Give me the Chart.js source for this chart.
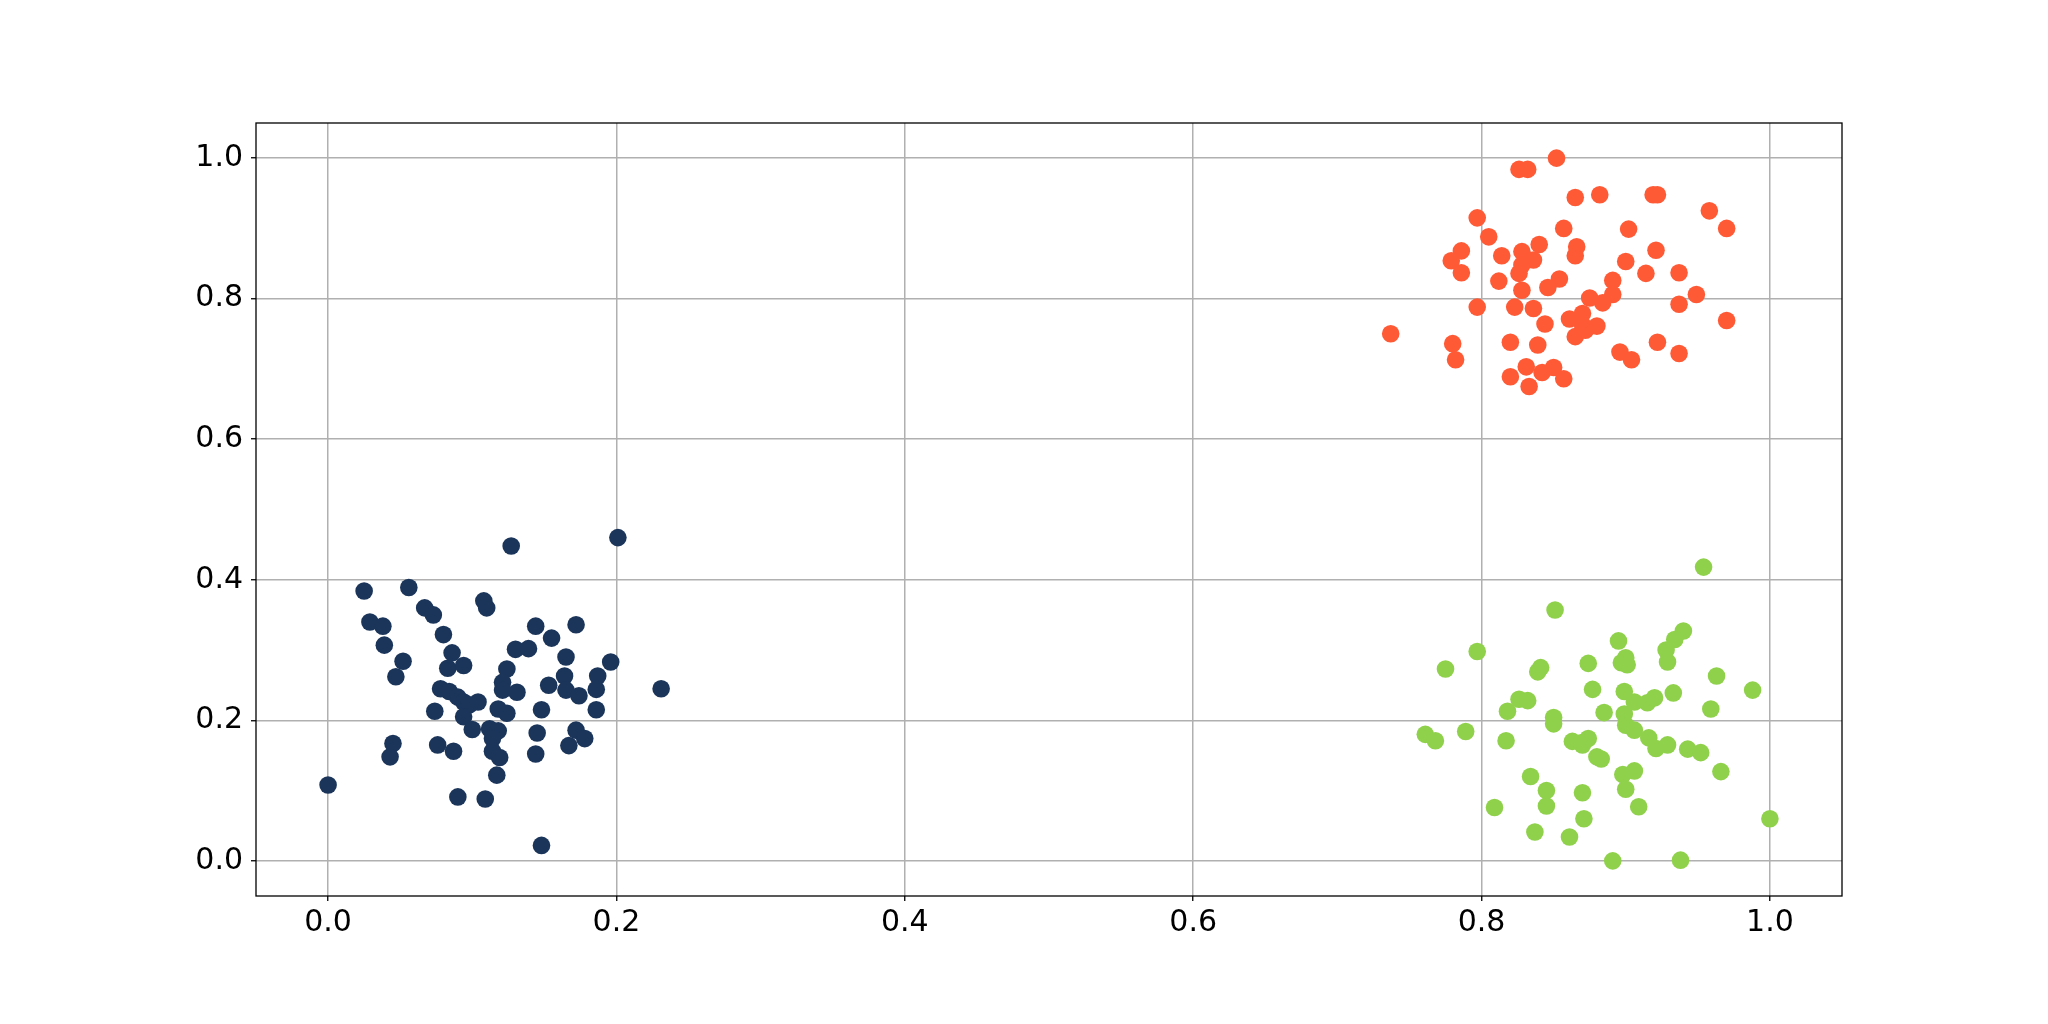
<!DOCTYPE html>
<html>
<head>
<meta charset="utf-8">
<script src="https://cdn.jsdelivr.net/npm/chart.js@4.4.1/dist/chart.umd.min.js"></script>
<style>
  html, body { margin: 0; padding: 0; background: #fff; }
  canvas { display: block; }
</style>
</head>
<body>
<canvas id="chart" width="2048" height="1024"></canvas>
<script>
// cluster values
const navyX = [0.127, 0.201, 0.025, 0.056, 0.108, 0.110, 0.067, 0.073, 0.029, 0.038,
  0.039, 0.080, 0.144, 0.172, 0.155, 0.130, 0.139, 0.086, 0.052, 0.047,
  0.083, 0.094, 0.165, 0.196, 0.124, 0.121, 0.121, 0.131, 0.153, 0.164,
  0.165, 0.174, 0.187, 0.186, 0.231, 0.078, 0.084, 0.090, 0.094, 0.104,
  0.098, 0.074, 0.094, 0.118, 0.124, 0.148, 0.186, 0.100, 0.112, 0.118,
  0.114, 0.145, 0.172, 0.178, 0.167, 0.045, 0.043, 0.076, 0.087, 0.114,
  0.119, 0.144, 0.117, 0.000, 0.090, 0.109, 0.148];
const navyY = [0.448, 0.460, 0.384, 0.389, 0.370, 0.360, 0.360, 0.350, 0.340, 0.334,
  0.307, 0.322, 0.334, 0.336, 0.317, 0.301, 0.302, 0.296, 0.284, 0.262,
  0.274, 0.278, 0.290, 0.283, 0.273, 0.254, 0.243, 0.240, 0.250, 0.263,
  0.243, 0.235, 0.263, 0.244, 0.245, 0.245, 0.241, 0.233, 0.226, 0.226,
  0.222, 0.213, 0.205, 0.216, 0.210, 0.215, 0.215, 0.187, 0.188, 0.185,
  0.174, 0.182, 0.186, 0.174, 0.164, 0.167, 0.148, 0.165, 0.156, 0.156,
  0.147, 0.152, 0.122, 0.108, 0.091, 0.088, 0.022];

const orangeX = [0.852, 0.826, 0.832, 0.865, 0.882, 0.919, 0.922, 0.958, 0.970, 0.797,
  0.805, 0.857, 0.902, 0.786, 0.779, 0.786, 0.814, 0.828, 0.840, 0.836,
  0.828, 0.826, 0.866, 0.865, 0.921, 0.900, 0.812, 0.828, 0.854, 0.846,
  0.891, 0.914, 0.937, 0.949, 0.891, 0.884, 0.875, 0.937, 0.970, 0.797,
  0.823, 0.836, 0.844, 0.861, 0.870, 0.870, 0.880, 0.865, 0.872, 0.737,
  0.780, 0.782, 0.820, 0.839, 0.896, 0.904, 0.922, 0.937, 0.831, 0.850,
  0.842, 0.820, 0.857, 0.833];
const orangeY = [1.000, 0.984, 0.984, 0.944, 0.948, 0.948, 0.948, 0.925, 0.900, 0.915,
  0.888, 0.900, 0.899, 0.868, 0.854, 0.837, 0.861, 0.867, 0.877, 0.855,
  0.848, 0.836, 0.874, 0.861, 0.869, 0.853, 0.825, 0.812, 0.828, 0.816,
  0.826, 0.836, 0.837, 0.806, 0.806, 0.794, 0.801, 0.792, 0.769, 0.788,
  0.788, 0.786, 0.764, 0.771, 0.779, 0.763, 0.761, 0.746, 0.755, 0.750,
  0.736, 0.713, 0.738, 0.734, 0.724, 0.713, 0.738, 0.722, 0.703, 0.702,
  0.695, 0.689, 0.686, 0.675];

const greenX = [0.954, 0.851, 0.797, 0.775, 0.895, 0.940, 0.934, 0.928, 0.929, 0.900,
  0.897, 0.901, 0.874, 0.841, 0.839, 0.963, 0.988, 0.877, 0.899, 0.906,
  0.915, 0.920, 0.933, 0.959, 0.826, 0.832, 0.818, 0.885, 0.899, 0.850,
  0.850, 0.900, 0.906, 0.761, 0.768, 0.789, 0.817, 0.863, 0.869, 0.874,
  0.870, 0.880, 0.883, 0.916, 0.921, 0.929, 0.943, 0.952, 0.966, 0.834,
  0.898, 0.906, 0.900, 0.845, 0.845, 0.870, 0.909, 0.809, 0.871, 1.000,
  0.837, 0.861, 0.891, 0.938];
const greenY = [0.418, 0.357, 0.298, 0.273, 0.313, 0.327, 0.315, 0.300, 0.283, 0.289,
  0.282, 0.279, 0.281, 0.275, 0.269, 0.263, 0.243, 0.244, 0.241, 0.226,
  0.225, 0.232, 0.239, 0.216, 0.230, 0.228, 0.213, 0.211, 0.209, 0.204,
  0.195, 0.193, 0.186, 0.180, 0.171, 0.184, 0.171, 0.170, 0.168, 0.174,
  0.165, 0.148, 0.145, 0.175, 0.160, 0.165, 0.159, 0.154, 0.127, 0.120,
  0.123, 0.128, 0.102, 0.100, 0.078, 0.097, 0.077, 0.076, 0.060, 0.060,
  0.041, 0.034, 0.000, 0.001];

const xTicks = [0.0, 0.2, 0.4, 0.6, 0.8, 1.0];
const yTicks = [0.0, 0.2, 0.4, 0.6, 0.8, 1.0];

const toPoints = (xs, ys) => xs.map((x, i) => ({ x: x, y: ys[i] }));

// matplotlib-style box around the plot area
const frame = {
    id: "frame",
    afterDatasetsDraw(chart) {
        const { ctx, chartArea: a } = chart;
        ctx.save();
        ctx.strokeStyle = "#000";
        ctx.lineWidth = 1.3;
        ctx.strokeRect(a.left, a.top, a.right - a.left, a.bottom - a.top);
        ctx.restore();
    },
};

const tickFont = { family: "DejaVu Sans", size: 30 };
const gridOpts = { color: "#b0b0b0", lineWidth: 1.5, tickColor: "#000", tickLength: 5, tickWidth: 1.3 };

new Chart(document.getElementById("chart"), {
    type: "scatter",
    data: {
        datasets: [
            { data: toPoints(navyX, navyY), backgroundColor: "#1b355a" },
            { data: toPoints(orangeX, orangeY), backgroundColor: "#ff5a36" },
            { data: toPoints(greenX, greenY), backgroundColor: "#8fd14b" },
        ],
    },
    options: {
        responsive: false,
        animation: false,
        layout: { padding: { left: 0, top: 123, right: 206, bottom: 0 } },
        elements: { point: { radius: 8.8, borderWidth: 0, hoverRadius: 8.8 } },
        plugins: { legend: { display: false }, tooltip: { enabled: false } },
        scales: {
            x: {
                type: "linear",
                min: -0.05,
                max: 1.05,
                grid: gridOpts,
                border: { display: false },
                ticks: { font: tickFont, color: "#000", padding: 4, maxRotation: 0,
                    callback: (v) => v.toFixed(1) },
                afterBuildTicks: (s) => { s.ticks = xTicks.map((v) => ({ value: v })); },
                afterFit: (s) => { s.height = 128; },
            },
            y: {
                type: "linear",
                min: -0.05,
                max: 1.05,
                grid: gridOpts,
                border: { display: false },
                ticks: { font: tickFont, color: "#000", padding: 8,
                    callback: (v) => v.toFixed(1) },
                afterBuildTicks: (s) => { s.ticks = yTicks.map((v) => ({ value: v })); },
                afterFit: (s) => { s.width = 256; },
            },
        },
    },
    plugins: [frame],
});
</script>
</body>
</html>
